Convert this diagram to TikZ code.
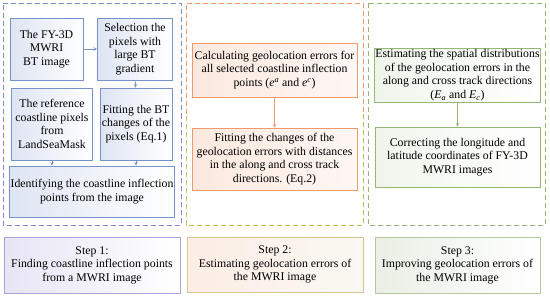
\documentclass[tikz,border=0pt]{standalone}
\usepackage{fontspec}
\setmainfont{Liberation Serif}
\usepackage{xcolor}
\usetikzlibrary{positioning}

\definecolor{lblue}{HTML}{7593C9}
\definecolor{lviolet}{HTML}{8C82D0}
\definecolor{morange}{HTML}{EE9A6E}
\definecolor{molive}{HTML}{C4B85A}
\definecolor{rgreen}{HTML}{93B873}
\definecolor{sgreen}{HTML}{B3C7A0}
\definecolor{stan}{HTML}{D3C596}
\definecolor{slav}{HTML}{A9A3D9}

\begin{document}
\begin{tikzpicture}[x=1pt, y=-1pt,
    box/.style={draw, align=center, font=\fontsize{11.8}{13.6}\selectfont,
                inner sep=1pt, line width=0.8pt},
    lbox/.style={box, draw=lblue, left color=lblue!24, right color=white},
    mbox/.style={box, draw=morange, left color=morange!22, right color=morange!8},
    rbox/.style={box, draw=rgreen, left color=rgreen!14, right color=white},
    frame/.style={dash pattern=on 5pt off 3pt, line width=0.9pt},
    arrow/.style={->, >=stealth, line width=0.6pt}
  ]
    \useasboundingbox (0,0) rectangle (550,298);
    % dashed frames of the three steps
    \draw[frame, draw=lblue] (3,3) -- (181,3) -- (181,114);
    \draw[frame, draw=lblue] (3,114) -- (3,3);
    \draw[frame, draw=lviolet] (181,114) -- (181,225) -- (3,225) -- (3,114);
    \draw[frame, draw=morange] (186,114) -- (186,3) -- (363,3) -- (363,114);
    \draw[frame, draw=molive] (363,114) -- (363,225) -- (186,225) -- (186,114);
    \draw[frame, draw=rgreen] (368,3) rectangle (545,225);
    % step 1
    \node[lbox, minimum width=73pt, minimum height=62pt] (fy3d) at (46.5,49) {The FY-3D\\MWRI\\BT image};
    \node[lbox, minimum width=75pt, minimum height=62pt] (select) at (135,49) {Selection the\\pixels with\\large BT\\gradient};
    \node[lbox, minimum width=81pt, minimum height=72pt] (refc) at (52,124) {The reference\\coastline pixels\\from\\LandSeaMask};
    \node[lbox, minimum width=72pt, minimum height=72pt] (fitbt) at (136,124) {Fitting the BT\\changes of the\\pixels (Eq.1)};
    \node[lbox, minimum width=160pt, minimum height=51pt] (ident) at (92,191.5) {Identifying the coastline inflection\\points from the image};
    \draw[arrow, lblue] (fy3d) -- (select);
    \draw[arrow, lblue] (select) -- (fitbt);
    \draw[arrow, lblue] (refc.south) -- (refc.south |- ident.north);
    \draw[arrow, lblue] (fitbt.south) -- (fitbt.south |- ident.north);
    % step 2
    \node[mbox, minimum width=165pt, minimum height=54pt] (calc) at (274.5,70) {Calculating geolocation errors for\\all selected coastline inflection\\points (\textit{e}\textsuperscript{\textit{a}} and \textit{e}\textsuperscript{\textit{c}})};
    \node[mbox, minimum width=165pt, minimum height=62pt] (fitge) at (274.5,159) {Fitting the changes of the\\geolocation errors with distances\\in the along and cross track\\directions. (Eq.2)};
    \draw[arrow, morange] (calc) -- (fitge);
    % step 3
    \node[rbox, minimum width=165pt, minimum height=54pt] (estim) at (457.5,75) {Estimating the spatial distributions\\of the geolocation errors in the\\along and cross track directions\\(\textit{E}\textsubscript{\textit{a}} and \textit{E}\textsubscript{\textit{c}})};
    \node[rbox, minimum width=165pt, minimum height=60pt] (corr) at (457.5,157) {Correcting the longitude and\\latitude coordinates of FY-3D\\MWRI images};
    \draw[arrow, rgreen] (estim) -- (corr);
    % step captions
    \node[box, draw=slav, left color=slav!28, right color=white, minimum width=176pt, minimum height=56pt] (step1) at (92,265) {Step 1:\\Finding coastline inflection points\\from a MWRI image};
    \node[box, draw=stan, left color=morange!18, right color=stan!12, minimum width=176pt, minimum height=55pt] (step2) at (275,264.5) {Step 2:\\Estimating geolocation errors of\\the MWRI image};
    \node[box, draw=sgreen, left color=sgreen!28, right color=white, minimum width=165pt, minimum height=56pt] (step3) at (457.5,265) {Step 3:\\Improving geolocation errors of\\the MWRI image};
  \end{tikzpicture}
\end{document}
